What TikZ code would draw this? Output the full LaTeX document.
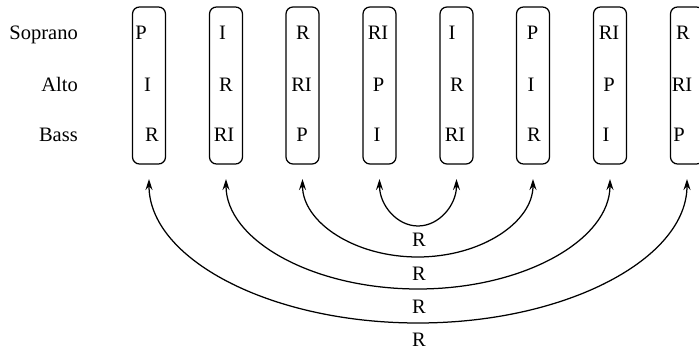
\documentclass[tikz,border=0pt]{standalone}
\usepackage{fontspec}
\setmainfont{Liberation Serif}
\usetikzlibrary{arrows.meta}
\begin{document}
\begin{tikzpicture}[x=1pt,y=1pt,
  txt/.style={font=\fontsize{20.5}{24}\selectfont, inner sep=0pt, anchor=base},
  rowlbl/.style={txt, anchor=base east},
  column/.style={draw, line width=1.25pt, rounded corners=7pt,
    minimum width=33pt, minimum height=157pt, inner sep=0pt},
  link/.style={line width=1.25pt,
    {Stealth[length=11pt,width=7pt]}-{Stealth[length=11pt,width=7pt]}}]
\useasboundingbox (0,0) rectangle (699,352);

% voice labels
\node[rowlbl] (sop)  at (78,312) {Soprano};
\node[rowlbl] (alto) at (78,260) {Alto};
\node[rowlbl] (bass) at (78,210) {Bass};

% the eight columns of row forms
\foreach \i/\x in {1/149,2/226,3/302.5,4/379.5,5/456.5,6/533,7/610,8/687}{
  \node[column] (b\i) at (\x,266.5) {};
  \coordinate (t\i) at (\x,173);
}

% forms inside each column: soprano, alto, bass
\node[txt] (s1) at (141,312) {P};   \node[txt] (a1) at (147.5,260) {I};  \node[txt] (r1) at (152,210) {R};
\node[txt] (s2) at (222.5,312) {I}; \node[txt] (a2) at (226,260) {R};    \node[txt] (r2) at (224,210) {RI};
\node[txt] (s3) at (303,312) {R};   \node[txt] (a3) at (301.5,260) {RI}; \node[txt] (r3) at (302,210) {P};
\node[txt] (s4) at (378,312) {RI};  \node[txt] (a4) at (378.5,260) {P};  \node[txt] (r4) at (377,210) {I};
\node[txt] (s5) at (452,312) {I};   \node[txt] (a5) at (457,260) {R};    \node[txt] (r5) at (455,210) {RI};
\node[txt] (s6) at (532.5,312) {P}; \node[txt] (a6) at (531,260) {I};    \node[txt] (r6) at (534,210) {R};
\node[txt] (s7) at (609,312) {RI};  \node[txt] (a7) at (609,260) {P};    \node[txt] (r7) at (606,210) {I};
\node[txt] (s8) at (683,312) {R};   \node[txt] (a8) at (682,260) {RI};   \node[txt] (r8) at (679,210) {P};

% retrograde pairings, nested from the middle outwards
\draw[link] (t4) arc[start angle=180, end angle=360, x radius=38.5, y radius=47];
\draw[link] (t3) arc[start angle=180, end angle=360, x radius=115.25, y radius=78];
\draw[link] (t2) arc[start angle=180, end angle=360, x radius=192, y radius=110];
\draw[link] (t1) arc[start angle=180, end angle=360, x radius=269, y radius=144];

\node[txt] (l1) at (419,105) {R};
\node[txt] (l2) at (419,71) {R};
\node[txt] (l3) at (419,38) {R};
\node[txt] (l4) at (419,5) {R};
\end{tikzpicture}
\end{document}
